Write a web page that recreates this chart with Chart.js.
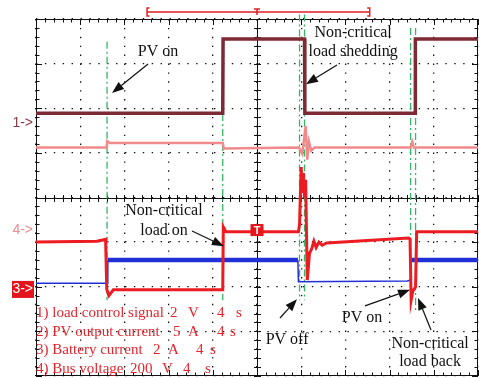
<!DOCTYPE html>
<html>
<head>
<meta charset="utf-8">
<script src="https://cdn.jsdelivr.net/npm/chart.js@4.4.1/dist/chart.umd.min.js"></script>
<style>
  html, body { margin: 0; padding: 0; background: #fff; }
  canvas { display: block; }
</style>
</head>
<body>
<canvas id="scope" width="479" height="378"></canvas>
<script>
// time in seconds (4 s/div), levels in divisions from the screen centre
const loadSignalTime  = [0, 16.9, 16.93, 24.3, 24.33, 34.3, 34.33, 40];
const loadSignalLevel = [1.89, 1.89, 3.55, 3.55, 1.89, 1.89, 3.55, 3.55];

const pvCurrentTime  = [0, 6.4, 6.45, 6.7, 16.9, 17.0, 23.8, 24.1, 24.4, 24.55, 24.7, 24.9, 25.2, 33.9, 34.05, 34.2, 40];
const pvCurrentLevel = [1.12, 1.12, 1.26, 1.22, 1.22, 1.1, 1.12, 0.98, 1.6, 0.85, 1.25, 1.05, 1.12, 1.12, 1.25, 1.12, 1.12];

const batteryTime  = [0, 6.45, 6.5, 23.7, 23.75, 33.6, 33.9, 33.95, 40];
const batteryLevel = [-1.92, -1.92, -1.40, -1.40, -1.89, -1.87, -1.85, -1.40, -1.40];

const busTime  = [0, 5.5, 6.3, 6.4, 6.6, 7.0, 16.9, 16.95, 17.2, 23.75, 23.85, 24.0, 24.1, 24.2, 24.3, 24.4,
                  24.55, 24.75, 24.95, 25.15, 25.35, 25.6, 25.9, 26.3, 33.7, 33.85, 33.95, 34.1, 34.35, 34.45, 40];
const busLevel = [-1.0, -0.98, -0.94, -2.05, -2.2, -2.07, -2.07, -0.66, -0.77, -0.77, -0.6, 0.68, 0.1, 0.55, 0.0, 0.4,
                  -1.85, -1.25, -1.15, -0.98, -1.12, -1.0, -1.07, -1.02, -0.91, -0.93, -2.3, -2.1, -2.0, -0.77, -0.77];

// green event cursors
const cursorTime   = [6.43, 16.9, 23.85, 24.3, 33.9, 34.35];
const cursorTop    = [3.49, 3.55, 4.1, 4.1, 3.8, 3.8];
const cursorBottom = [-2.3, -2.3, -2.3, -2.3, -2.55, -2.55];

const legendLabels = ['1) load control signal', '2) PV output current', '3) Battery current', '4) Bus voltage'];
const legendScale  = ['2', '5', '2', '200'];
const legendUnit   = ['V', 'A', 'A', 'V'];
const legendTime   = ['4', '4', '4', '4'];

// annotation text and arrows, in seconds / divisions
const notes = [
  ['PV on', 11.04, 3.26],
  ['Non-critical', 28.7, 3.69], ['load shedding', 28.7, 3.26],
  ['Non-critical', 11.58, -0.30], ['load on', 11.58, -0.75],
  ['PV off', 22.72, -3.19],
  ['PV on', 29.5, -2.70],
  ['Non-critical', 35.66, -3.28], ['load back', 35.66, -3.69]
];
const arrows = [
  [10.14, 2.99, 6.88, 2.34],
  [27.24, 2.97, 24.43, 2.54],
  [14.12, -0.75, 17.01, -1.09],
  [22.08, -2.70, 23.62, -2.28],
  [29.77, -2.43, 33.85, -2.07],
  [35.75, -2.97, 34.57, -2.25]
];

function toPoints(times, levels) {
  return times.map((t, i) => ({ x: t, y: levels[i] }));
}

const traces = [
  { label: 'load control signal', data: toPoints(loadSignalTime, loadSignalLevel), borderColor: '#7d2a34', borderWidth: 3.5 },
  { label: 'Bus voltage', data: toPoints(busTime, busLevel), borderColor: '#ec1c22', borderWidth: 3 },
  { label: 'Battery current', data: toPoints(batteryTime, batteryLevel), borderColor: '#2130d6', borderWidth: 1.5,
    segment: { borderWidth: c => (c.p0.parsed.y > -1.6 && c.p1.parsed.y > -1.6) ? 4.5 : 1.5 } },
  { label: 'PV output current', data: toPoints(pvCurrentTime, pvCurrentLevel), borderColor: '#f28a8c', borderWidth: 2.5 }
];

const cursors = cursorTime.map((t, i) => ({
  label: 'cursor' + i,
  data: [{ x: t, y: cursorTop[i] }, { x: t, y: cursorBottom[i] }],
  borderColor: '#35b567',
  borderWidth: 1.3,
  borderDash: [7, 3, 2, 3],
  clip: false
}));

const scopeDecor = {
  id: 'scopeDecor',
  beforeDatasetsDraw(chart) {
    const { ctx, chartArea: a, scales: { x, y } } = chart;
    ctx.save();
    ctx.strokeStyle = '#111';
    ctx.lineWidth = 1;
    ctx.strokeRect(a.left + 0.5, a.top + 0.5, a.right - a.left - 1, a.bottom - a.top - 1);
    const cx = Math.round(x.getPixelForValue(20)) + 0.5;
    const cy = Math.round(y.getPixelForValue(0)) + 0.5;
    ctx.beginPath();
    ctx.moveTo(a.left, cy); ctx.lineTo(a.right, cy);
    ctx.moveTo(cx, a.top); ctx.lineTo(cx, a.bottom);
    for (let i = 0; i <= 50; i++) {
      const px = Math.round(x.getPixelForValue(i * 0.8)) + 0.5;
      const len = i % 5 === 0 ? 6 : 3.5;
      ctx.moveTo(px, cy - 3.5); ctx.lineTo(px, cy + 3.5);
      ctx.moveTo(px, a.top); ctx.lineTo(px, a.top + len);
      ctx.moveTo(px, a.bottom); ctx.lineTo(px, a.bottom - len);
    }
    for (let j = 0; j <= 40; j++) {
      const py = Math.round(y.getPixelForValue(-4 + j * 0.2)) + 0.5;
      const len = j % 5 === 0 ? 6 : 3.5;
      ctx.moveTo(cx - 3.5, py); ctx.lineTo(cx + 3.5, py);
      ctx.moveTo(a.left, py); ctx.lineTo(a.left + len, py);
      ctx.moveTo(a.right, py); ctx.lineTo(a.right - len, py);
    }
    ctx.stroke();
    ctx.restore();
  },
  afterDraw(chart) {
    const { ctx, chartArea: a, scales: { x, y } } = chart;
    ctx.save();

    // trigger window bracket above the screen
    const by = a.top - 7;
    const b1 = x.getPixelForValue(10.05), b2 = x.getPixelForValue(30.2), bt = x.getPixelForValue(20);
    ctx.strokeStyle = '#e0202a';
    ctx.lineWidth = 1.5;
    ctx.beginPath();
    ctx.moveTo(b1, by); ctx.lineTo(b2, by);
    ctx.moveTo(b1 + 2.5, by - 4); ctx.lineTo(b1, by - 4); ctx.lineTo(b1, by + 4); ctx.lineTo(b1 + 2.5, by + 4);
    ctx.moveTo(b2 - 2.5, by - 4); ctx.lineTo(b2, by - 4); ctx.lineTo(b2, by + 4); ctx.lineTo(b2 - 2.5, by + 4);
    ctx.moveTo(bt - 3, by - 3); ctx.lineTo(bt + 3, by - 3);
    ctx.moveTo(bt, by - 3); ctx.lineTo(bt, by + 3);
    ctx.stroke();

    // trigger marker on channel 4
    const tx = x.getPixelForValue(20), ty = y.getPixelForValue(-0.73);
    ctx.fillStyle = '#e8141c';
    ctx.fillRect(tx - 6.5, ty - 6, 13, 12);
    ctx.fillStyle = '#fff';
    ctx.font = 'bold 11px "Liberation Sans"';
    ctx.textAlign = 'center';
    ctx.textBaseline = 'middle';
    ctx.fillText('T', tx, ty + 0.5);

    // channel ground markers
    ctx.font = '14px "Liberation Sans"';
    ctx.textAlign = 'right';
    ctx.fillStyle = '#8a3a44';
    ctx.fillText('1->', a.left - 3, y.getPixelForValue(1.67));
    ctx.fillStyle = '#f08a8c';
    ctx.fillText('4->', a.left - 3, y.getPixelForValue(-0.73));
    const my = y.getPixelForValue(-2.06);
    ctx.fillStyle = '#e3141c';
    ctx.fillRect(12, my - 8.5, 22, 17);
    ctx.fillStyle = '#fff';
    ctx.fillText('3->', a.left - 3, my);

    // channel legend
    const rowPx = [a.bottom - 63, a.bottom - 44, a.bottom - 26, a.bottom - 7];
    const cols = [[134, 152, 181, 200], [137, 152, 181, 194], [117, 132, 160, 174], [94, 126, 147, 169]];
    ctx.font = '15px "Liberation Serif"';
    ctx.fillStyle = '#e3262e';
    ctx.textAlign = 'left';
    legendLabels.forEach((lab, i) => {
      ctx.fillText(lab, a.left, rowPx[i]);
      ctx.fillText(legendScale[i], a.left + cols[i][0], rowPx[i]);
      ctx.fillText(legendUnit[i], a.left + cols[i][1], rowPx[i]);
      ctx.fillText(legendTime[i], a.left + cols[i][2], rowPx[i]);
      ctx.fillText('s', a.left + cols[i][3], rowPx[i]);
    });

    // annotations
    ctx.font = '16px "Liberation Serif"';
    ctx.fillStyle = '#111';
    ctx.textAlign = 'center';
    notes.forEach(([t, nx, ny]) => ctx.fillText(t, x.getPixelForValue(nx), y.getPixelForValue(ny)));

    ctx.strokeStyle = '#111';
    ctx.lineWidth = 1.2;
    arrows.forEach(([x1, y1, x2, y2]) => {
      const p1x = x.getPixelForValue(x1), p1y = y.getPixelForValue(y1);
      const p2x = x.getPixelForValue(x2), p2y = y.getPixelForValue(y2);
      const ang = Math.atan2(p2y - p1y, p2x - p1x);
      const hl = 12, hw = 4.5;
      const bx = p2x - hl * Math.cos(ang), byy = p2y - hl * Math.sin(ang);
      ctx.beginPath();
      ctx.moveTo(p1x, p1y); ctx.lineTo(bx, byy);
      ctx.stroke();
      ctx.beginPath();
      ctx.moveTo(p2x, p2y);
      ctx.lineTo(bx + hw * Math.sin(ang), byy - hw * Math.cos(ang));
      ctx.lineTo(bx - hw * Math.sin(ang), byy + hw * Math.cos(ang));
      ctx.closePath();
      ctx.fill();
    });
    ctx.restore();
  }
};

new Chart(document.getElementById('scope'), {
  type: 'line',
  data: { datasets: [...traces, ...cursors] },
  options: {
    responsive: false,
    animation: false,
    events: [],
    layout: { padding: { left: 36, top: 19, right: 1, bottom: 2 } },
    elements: { point: { radius: 0 }, line: { tension: 0, fill: false } },
    plugins: { legend: { display: false }, tooltip: { enabled: false } },
    scales: {
      x: {
        type: 'linear', min: 0, max: 40,
        ticks: { display: false, stepSize: 4 },
        grid: { color: '#111', lineWidth: 1.3, drawTicks: false },
        border: { display: false, dash: [1.4, 7.5] }
      },
      y: {
        type: 'linear', min: -4, max: 4,
        ticks: { display: false, stepSize: 1 },
        grid: { color: '#111', lineWidth: 1.3, drawTicks: false },
        border: { display: false, dash: [1.4, 7.5] }
      }
    }
  },
  plugins: [scopeDecor]
});
</script>
</body>
</html>
